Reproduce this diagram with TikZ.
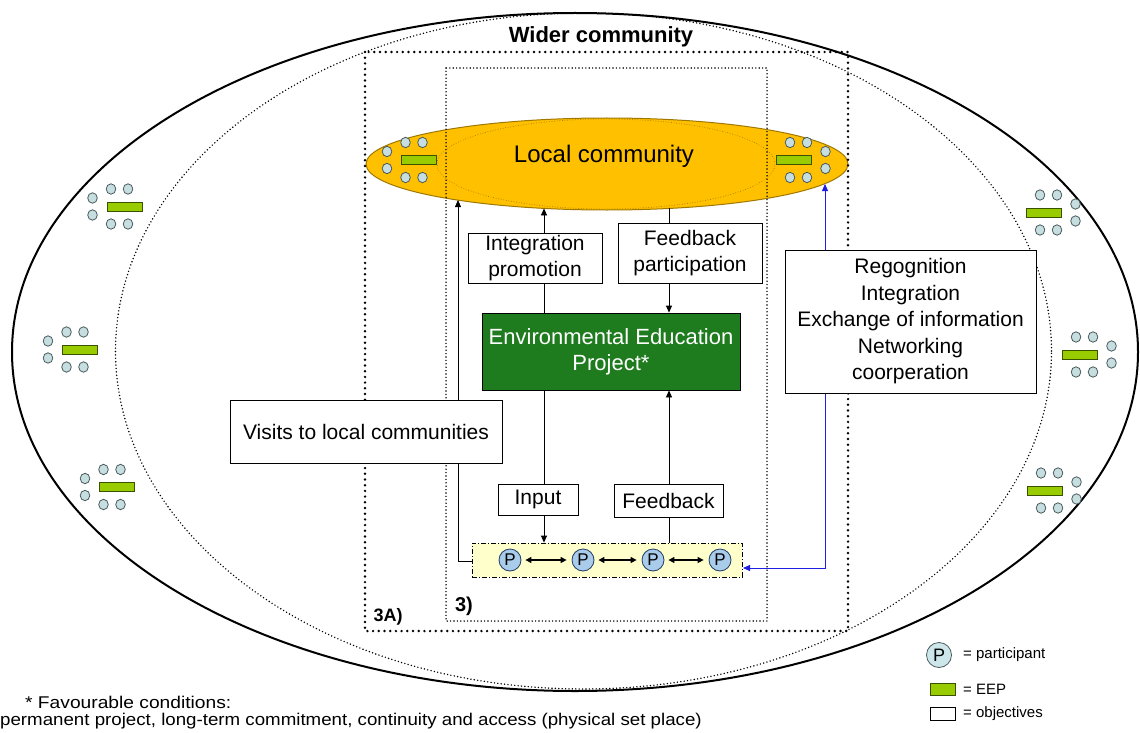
\documentclass[tikz,border=0pt]{standalone}
\usepackage{fontspec}
\setmainfont{Liberation Sans}
\usepackage{graphicx}
\usetikzlibrary{shapes.geometric,arrows.meta}
\definecolor{lcyellow}{HTML}{FFC000}
\definecolor{lcedge}{HTML}{A07800}
\definecolor{eepgreen}{HTML}{1E7B1E}
\definecolor{limefill}{HTML}{99CC00}
\definecolor{limeedge}{HTML}{3A5200}
\definecolor{dotfill}{HTML}{C6DEE0}
\definecolor{dotedge}{HTML}{4A5A5C}
\definecolor{pfill}{HTML}{A8CCEA}
\definecolor{pedge}{HTML}{1F3A66}
\definecolor{legpfill}{HTML}{CDE6EA}
\definecolor{stripfill}{HTML}{FFFFCC}
\definecolor{arrowblue}{HTML}{2020E0}
\newcommand\fsz[2]{\fontsize{#1}{#2}\selectfont}
\tikzset{
  dotc/.style={draw=dotedge, fill=dotfill, line width=0.8pt},
  eeprect/.style={draw=limeedge, fill=limefill, line width=0.7pt},
  grp/.pic={
    \path[eeprect] (-17.5,-4.5) rectangle (17.5,4.5);
    \foreach \gx/\gy in {-13.5/-17.5, 3.5/-17.5, -32/-8.5, -32/8.5, -13.5/17.5, 3.5/17.5}
      \path[dotc] (\gx,\gy) ellipse [x radius=4.8pt, y radius=5.2pt];
  },
  objbox/.style={draw=black, line width=0.8pt, fill=white, align=center, inner sep=0pt, font=\fsz{21}{26.5}},
  eepbox/.style={draw=black, line width=0.8pt, fill=eepgreen, text=white, align=center, inner sep=0pt, font=\fsz{22}{26}},
  lcell/.style={ellipse, draw=lcedge, line width=1pt, fill=lcyellow, inner sep=0pt, minimum width=482pt, minimum height=92pt},
  lcdot/.style={draw=lcedge, line width=0.9pt, dash pattern=on 0pt off 2.6pt, line cap=round},
  bigdots/.style={line width=2.7pt, dash pattern=on 0pt off 5.7pt, line cap=round},
  finedots/.style={line width=1.6pt, dash pattern=on 0pt off 3.4pt, line cap=round},
  ar/.style={line width=0.8pt, -{Triangle[length=7pt,width=6pt]}},
  bar/.style={line width=0.8pt, draw=arrowblue, {Triangle[length=7pt,width=6pt]}-{Triangle[length=7pt,width=6pt]}},
  dbl/.style={line width=1.3pt, {Triangle[length=6pt,width=6pt]}-{Triangle[length=6pt,width=6pt]}, shorten <=4pt, shorten >=5pt},
  pnode/.style={circle, draw=pedge, line width=0.8pt, fill=pfill, minimum size=22pt, inner sep=0pt, font=\fsz{17}{17}},
  strip/.style={draw=black, line width=0.8pt, fill=stripfill, dash pattern=on 5pt off 2pt on 1pt off 2pt, inner sep=0pt},
  legtext/.style={anchor=west, font=\fsz{15}{15}, inner sep=0pt},
}
\begin{document}
\begin{tikzpicture}[x=1pt,y=-1pt]
\useasboundingbox (0,0) rectangle (1140,733);
% wider community ellipses
\draw[line width=2pt] (575,352) ellipse [x radius=563pt, y radius=339pt];
\draw[finedots] (583.5,351) ellipse [x radius=468pt, y radius=338pt];
\node[anchor=base, font=\bfseries\fsz{22}{22}, inner sep=0pt] (wider) at (601,43) {Wider community};
% outside groups
\pic at (124.5,206.5) {grp};
\pic at (80,349.5) {grp};
\pic at (117,487) {grp};
\pic[xscale=-1] at (1043.5,212.5) {grp};
\pic[xscale=-1] at (1079.5,354.5) {grp};
\pic[xscale=-1] at (1044.5,490.5) {grp};
% local community
\node[lcell] (lc) at (607,164) {};
\draw[lcdot] (606,164) ellipse [x radius=169pt, y radius=45pt];
\pic at (419,160) {grp};
\pic[xscale=-1] at (793.5,160) {grp};
\node[anchor=base, font=\fsz{24}{24}, inner sep=0pt] (lct) at (604,162) {Local community};
% dotted frames
\draw[bigdots] (365,52) rectangle (848,631);
\draw[finedots] (446,68) rectangle (767,621);
\node[font=\bfseries\fsz{18}{18}, inner sep=0pt] (l3a) at (388,617) {3A)};
\node[font=\bfseries\fsz{20}{20}, inner sep=0pt] (l3) at (464,606) {3)};
% coordinates
\coordinate (xL) at (544,0);
\coordinate (xR) at (669,0);
\coordinate (lcB1) at (544,208.4);
\coordinate (lcB2) at (669,208.4);
\coordinate (lcL) at (458,200);
\coordinate (lcR) at (825,184);
% nodes
\node[eepbox, minimum width=258pt, minimum height=77pt] (eep) at (611,351.5) {Environmental Education\\Project*};
\node[strip, minimum width=270pt, minimum height=34pt] (st) at (607,560) {};
\coordinate (stL) at (472,561);
\coordinate (cL) at (458,561);
\coordinate (stR) at (743,568);
\coordinate (cR) at (825,568);
% connectors
\draw[ar] (eep.north -| xL) -- (lcB1);
\draw[ar] (lcB2) -- (eep.north -| xR);
\draw[ar] (eep.south -| xL) -- (st.north -| xL);
\draw[ar] (st.north -| xR) -- (eep.south -| xR);
\draw[ar] (stL) -- (cL) -- (lcL);
\draw[bar] (lcR) -- (cR) -- (stR);
% objective boxes
\node[objbox, minimum width=134pt, minimum height=50pt] (ip) at (535,258) {Integration\\promotion};
\node[objbox, minimum width=144pt, minimum height=60pt] (fp) at (690,253) {Feedback\\participation};
\node[objbox, minimum width=251pt, minimum height=143pt] (rc) at (910.5,321.5) {Regognition\\Integration\\Exchange of information\\Networking\\coorperation};
\node[objbox, minimum width=272pt, minimum height=63pt] (vt) at (366,431.5) {Visits to local communities};
\node[objbox, minimum width=80pt, minimum height=31pt] (inp) at (538,499.5) {Input};
\node[objbox, minimum width=109pt, minimum height=33pt] (fb) at (668.5,500.5) {Feedback};
% participants
\node[pnode] (p1) at (510,560) {P};
\node[pnode] (p2) at (583,560) {P};
\node[pnode] (p3) at (653,560) {P};
\node[pnode] (p4) at (720,560) {P};
\draw[dbl] (p1) -- (p2);
\draw[dbl] (p2) -- (p3);
\draw[dbl] (p3) -- (p4);
% legend
\node[circle, draw=dotedge, line width=0.8pt, fill=legpfill, minimum size=25pt, inner sep=0pt, font=\fsz{18}{18}] (lp) at (939,655) {P};
\node[legtext] (lpt) at (963,655) {= participant};
\node[eeprect, minimum width=25pt, minimum height=12pt, inner sep=0pt] (le) at (942.5,689) {};
\node[legtext] (let) at (963,689) {= EEP};
\node[draw=black, line width=0.7pt, fill=white, minimum width=25pt, minimum height=13pt, inner sep=0pt] (lo) at (942.5,713.5) {};
\node[legtext] (lot) at (963,713.5) {= objectives};
% footnote
\node[anchor=base west, inner sep=0pt, font=\fsz{17}{17}] (fn1) at (25,708) {\scalebox{1.13}[1]{* Favourable conditions:}};
\node[anchor=base west, inner sep=0pt, font=\fsz{17}{17}] (fn2) at (0,725) {\scalebox{1.1}[1]{permanent project, long-term commitment, continuity and access (physical set place)}};
\end{tikzpicture}
\end{document}
